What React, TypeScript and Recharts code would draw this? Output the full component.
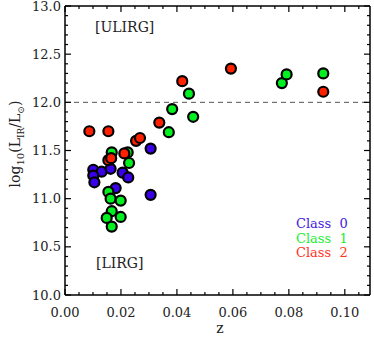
import React from "react";
import { ScatterChart, Scatter, XAxis, YAxis, ReferenceLine } from "recharts";

const class0 = [
  { z: 0.0101, l: 11.30 },
  { z: 0.0131, l: 11.28 },
  { z: 0.0163, l: 11.31 },
  { z: 0.0101, l: 11.24 },
  { z: 0.0105, l: 11.17 },
  { z: 0.0206, l: 11.27 },
  { z: 0.0226, l: 11.22 },
  { z: 0.0181, l: 11.11 },
  { z: 0.0306, l: 11.52 },
  { z: 0.0306, l: 11.04 },
];

const class1 = [
  { z: 0.0167, l: 11.48 },
  { z: 0.0224, l: 11.48 },
  { z: 0.0229, l: 11.37 },
  { z: 0.0155, l: 11.07 },
  { z: 0.0163, l: 11.0 },
  { z: 0.0199, l: 10.98 },
  { z: 0.0167, l: 10.87 },
  { z: 0.0149, l: 10.8 },
  { z: 0.0199, l: 10.81 },
  { z: 0.0167, l: 10.71 },
  { z: 0.0371, l: 11.69 },
  { z: 0.0383, l: 11.93 },
  { z: 0.0458, l: 11.85 },
  { z: 0.0443, l: 12.09 },
  { z: 0.0775, l: 12.2 },
  { z: 0.0792, l: 12.29 },
  { z: 0.0923, l: 12.3 },
];

const class2 = [
  { z: 0.0087, l: 11.7 },
  { z: 0.0155, l: 11.7 },
  { z: 0.0254, l: 11.6 },
  { z: 0.0268, l: 11.63 },
  { z: 0.0155, l: 11.4 },
  { z: 0.0165, l: 11.42 },
  { z: 0.0212, l: 11.47 },
  { z: 0.0337, l: 11.79 },
  { z: 0.0419, l: 12.22 },
  { z: 0.0593, l: 12.35 },
  { z: 0.0923, l: 12.11 },
];

const emptyData: { z: number; l: number }[] = [];

const xTicks = [
  0, 0.005, 0.01, 0.015, 0.02, 0.025, 0.03, 0.035, 0.04, 0.045, 0.05, 0.055,
  0.06, 0.065, 0.07, 0.075, 0.08, 0.085, 0.09, 0.095, 0.1, 0.105,
];
const xMajor = [0, 0.02, 0.04, 0.06, 0.08, 0.1];
const xLabels = ["0.00", "0.02", "0.04", "0.06", "0.08", "0.10"];

const yTicks = [
  10.0, 10.1, 10.2, 10.3, 10.4, 10.5, 10.6, 10.7, 10.8, 10.9, 11.0, 11.1, 11.2,
  11.3, 11.4, 11.5, 11.6, 11.7, 11.8, 11.9, 12.0, 12.1, 12.2, 12.3, 12.4, 12.5,
  12.6, 12.7, 12.8, 12.9, 13.0,
];
const yMajor = [10.0, 10.5, 11.0, 11.5, 12.0, 12.5, 13.0];
const yLabels = ["10.0", "10.5", "11.0", "11.5", "12.0", "12.5", "13.0"];

const legendItems = ["Class 0", "Class 1", "Class 2"];
const legendColors = ["#4020e0", "#22ee33", "#ff3322"];
const dotColors = ["#3a00e8", "#00f020", "#ff2000"];

const FONT = "DejaVu Serif";
const TXT = "#222";

const majorIndex = (v: number, majors: number[]) =>
  majors.findIndex((m) => Math.abs(m - v) < 1e-6);

const BottomTick = (props: any) => {
  const { x, y, payload } = props;
  const i = majorIndex(payload.value, xMajor);
  const len = i >= 0 ? 6 : 3;
  return (
    <g>
      <line x1={x} y1={y} x2={x} y2={y - len} stroke="#000" strokeWidth={1.2} />
      {i >= 0 && (
        <text x={x} y={y + 22} textAnchor="middle" fontFamily={FONT} fontSize={13} fill={TXT}>
          {xLabels[i]}
        </text>
      )}
    </g>
  );
};

const TopTick = (props: any) => {
  const { x, y, payload } = props;
  const i = majorIndex(payload.value, xMajor);
  const len = i >= 0 ? 6 : 3;
  return <line x1={x} y1={y} x2={x} y2={y + len} stroke="#000" strokeWidth={1.2} />;
};

const LeftTick = (props: any) => {
  const { x, y, payload } = props;
  const i = majorIndex(payload.value, yMajor);
  const len = i >= 0 ? 6 : 3;
  return (
    <g>
      <line x1={x} y1={y} x2={x + len} y2={y} stroke="#000" strokeWidth={1.2} />
      {i >= 0 && (
        <text x={x - 4} y={y + 4.5} textAnchor="end" fontFamily={FONT} fontSize={13} fill={TXT}>
          {yLabels[i]}
        </text>
      )}
    </g>
  );
};

const RightTick = (props: any) => {
  const { x, y, payload } = props;
  const i = majorIndex(payload.value, yMajor);
  const len = i >= 0 ? 6 : 3;
  return <line x1={x} y1={y} x2={x - len} y2={y} stroke="#000" strokeWidth={1.2} />;
};

const makeDot = (color: string) => (props: any) =>
  <circle cx={props.cx} cy={props.cy} r={5} fill={color} stroke="#000" strokeWidth={2.2} />;

export default function App() {
  return (
    <div style={{ position: "absolute", left: 0, top: 0, width: 374, height: 337, background: "#fff" }}>
      <ScatterChart width={374} height={337} margin={{ top: 5, right: 3, bottom: 0, left: 0 }}>
        <XAxis
          xAxisId="b"
          type="number"
          dataKey="z"
          domain={[0, 0.109]}
          ticks={xTicks}
          interval={0}
          tickSize={0}
          tickMargin={0}
          tickLine={false}
          tick={<BottomTick />}
          axisLine={{ stroke: "#000", strokeWidth: 1.5 }}
          height={42}
          orientation="bottom"
          allowDataOverflow
        />
        <XAxis
          xAxisId="t"
          type="number"
          dataKey="z"
          domain={[0, 0.109]}
          ticks={xTicks}
          interval={0}
          tickSize={0}
          tickMargin={0}
          tickLine={false}
          tick={<TopTick />}
          axisLine={{ stroke: "#000", strokeWidth: 1.5 }}
          height={1}
          orientation="top"
          allowDataOverflow
        />
        <YAxis
          yAxisId="l"
          type="number"
          dataKey="l"
          domain={[10, 13]}
          ticks={yTicks}
          interval={0}
          tickSize={0}
          tickMargin={0}
          tickLine={false}
          tick={<LeftTick />}
          axisLine={{ stroke: "#000", strokeWidth: 1.5 }}
          width={65}
          orientation="left"
          allowDataOverflow
        />
        <YAxis
          yAxisId="r"
          type="number"
          dataKey="l"
          domain={[10, 13]}
          ticks={yTicks}
          interval={0}
          tickSize={0}
          tickMargin={0}
          tickLine={false}
          tick={<RightTick />}
          axisLine={{ stroke: "#000", strokeWidth: 1.5 }}
          width={1}
          orientation="right"
          allowDataOverflow
        />
        <ReferenceLine
          xAxisId="b"
          yAxisId="l"
          y={12}
          stroke="#555"
          strokeDasharray="5 4"
          strokeWidth={1}
        />
        <Scatter xAxisId="t" yAxisId="r" data={emptyData} fill="none" isAnimationActive={false} />
        <Scatter xAxisId="b" yAxisId="l" data={class0} fill={dotColors[0]} shape={makeDot(dotColors[0])} isAnimationActive={false} />
        <Scatter xAxisId="b" yAxisId="l" data={class1} fill={dotColors[1]} shape={makeDot(dotColors[1])} isAnimationActive={false} />
        <Scatter xAxisId="b" yAxisId="l" data={class2} fill={dotColors[2]} shape={makeDot(dotColors[2])} isAnimationActive={false} />
        <text x={95} y={32} fontFamily={FONT} fontSize={14} fill={TXT}>[ULIRG]</text>
        <text x={96} y={268} fontFamily={FONT} fontSize={14} fill={TXT}>[LIRG]</text>
        {legendItems.map((t, i) => (
          <text key={t} x={296} y={228 + i * 14.5} fontFamily={FONT} fontSize={13} fill={legendColors[i]} style={{ whiteSpace: "pre" }}>
            {t.replace(" ", "\u00a0\u00a0")}
          </text>
        ))}
        <text x={220} y={333} textAnchor="middle" fontFamily={FONT} fontSize={14} fill={TXT}>z</text>
        <text transform="translate(20,144) rotate(-90)" textAnchor="middle" fontFamily={FONT} fontSize={14} fill={TXT}>
          log
          <tspan fontSize={10} dy={4}>10</tspan>
          <tspan dy={-4}>(L</tspan>
          <tspan fontSize={9} dy={4}>IR</tspan>
          <tspan dy={-4}>/L</tspan>
          <tspan fontSize={9} dy={4}>⊙</tspan>
          <tspan dy={-4}>)</tspan>
        </text>
      </ScatterChart>
    </div>
  );
}
